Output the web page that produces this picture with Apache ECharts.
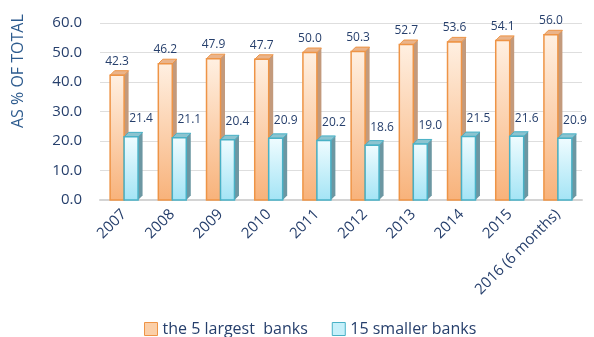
<!DOCTYPE html>
<html>
<head>
<meta charset="utf-8">
<script src="https://cdn.jsdelivr.net/npm/echarts@6/dist/echarts.min.js"></script>
<style>
  html, body { margin: 0; padding: 0; background: #fff; }
  #chart { width: 594px; height: 337px; }
</style>
</head>
<body>
<div id="chart"></div>
<script>
var years = ['2007', '2008', '2009', '2010', '2011', '2012', '2013', '2014', '2015', '2016 (6 months)'];
var largest = [42.3, 46.2, 47.9, 47.7, 50.0, 50.3, 52.7, 53.6, 54.1, 56.0];
var smaller = [21.4, 21.1, 20.4, 20.9, 20.2, 18.6, 19.0, 21.5, 21.6, 20.9];

var chart = echarts.init(document.getElementById('chart'));
var textColor = '#263f6c';
var font = '"Open Sans", sans-serif';

// fake 3d bar: front face + right side + top
function render3d(side, c) {
  return function (params, api) {
    var i = api.value(0), v = api.value(1);
    var base = api.coord([i, 0]);
    var top = api.coord([i, v]);
    var band = api.size([1, 0])[0];
    var w = band * 0.29;
    var d = 4.5;
    var x0 = side < 0 ? base[0] - w : base[0];
    var x1 = x0 + w;
    var y0 = top[1], y1 = base[1];
    return {
      type: 'group',
      children: [
        { type: 'polygon', shape: { points: [[x1, y0], [x1 + d, y0 - d], [x1 + d, y1 - d], [x1, y1]] },
          style: { fill: c.side } },
        { type: 'polygon', shape: { points: [[x0, y0], [x0 + d, y0 - d], [x1 + d, y0 - d], [x1, y0]] },
          style: { fill: c.top, stroke: c.stroke, lineWidth: 1 } },
        { type: 'rect', shape: { x: x0, y: y0, width: w, height: y1 - y0 },
          style: {
            fill: new echarts.graphic.LinearGradient(0, 0, 0, 1, [
              { offset: 0, color: c.light }, { offset: 1, color: c.dark }
            ]),
            stroke: c.stroke, lineWidth: 1.5
          } },
        { type: 'text',
          style: { text: v.toFixed(1), x: x0 + w / 2 + c.labelDx, y: y0 - c.labelDy,
                   align: 'center', verticalAlign: 'bottom', fill: textColor,
                   font: '12px ' + font } }
      ]
    };
  };
}

var orange = { light: '#fff0e2', dark: '#f8b27a', stroke: '#ee9446', side: '#c39a7c', top: '#eab48b', labelDx: 0, labelDy: 8 };
var cyan = { light: '#f0fcff', dark: '#a3e4f5', stroke: '#48b1c6', side: '#6c97a2', top: '#8cc4d0', labelDx: 10, labelDy: 12 };

var option = {
  animation: false,
  grid: { left: 100, right: 12, top: 23, bottom: 137 },
  legend: {
    top: 316,
    left: 139,
    itemWidth: 13,
    itemHeight: 13,
    itemGap: 24,
    textStyle: { color: textColor, fontSize: 16, fontFamily: font },
    data: [
      { name: 'the 5 largest  banks', icon: 'rect', itemStyle: { color: '#fbcfa8', borderColor: '#ee9446', borderWidth: 1 } },
      { name: '15 smaller banks', icon: 'rect', itemStyle: { color: '#c6f0fa', borderColor: '#48b1c6', borderWidth: 1 } }
    ]
  },
  graphic: [{
    type: 'text',
    x: 10, y: 128,
    rotation: Math.PI / 2,
    style: { text: 'AS % OF TOTAL', fill: '#2d5b8e', font: '16px ' + font }
  }],
  xAxis: {
    type: 'category',
    data: years,
    axisTick: { show: false },
    axisLine: { lineStyle: { color: '#d4d4d4', width: 2 } },
    axisLabel: { rotate: 45, color: textColor, fontSize: 15, fontFamily: font, margin: 12, interval: 0 }
  },
  yAxis: {
    type: 'value',
    min: 0, max: 60, interval: 10,
    axisLine: { show: false },
    axisTick: { show: false },
    splitLine: { lineStyle: { color: '#dedede' } },
    axisLabel: { color: textColor, fontSize: 15, fontFamily: font, margin: 18,
                 formatter: function (v) { return v.toFixed(1); } }
  },
  series: [
    { name: 'the 5 largest  banks', type: 'custom', renderItem: render3d(-1, orange),
      encode: { x: 0, y: 1 }, itemStyle: { color: '#fbcfa8' },
      data: largest.map(function (v, i) { return [i, v]; }) },
    { name: '15 smaller banks', type: 'custom', renderItem: render3d(1, cyan),
      encode: { x: 0, y: 1 }, itemStyle: { color: '#c6f0fa' },
      data: smaller.map(function (v, i) { return [i, v]; }) }
  ]
};
chart.setOption(option);
</script>
</body>
</html>
